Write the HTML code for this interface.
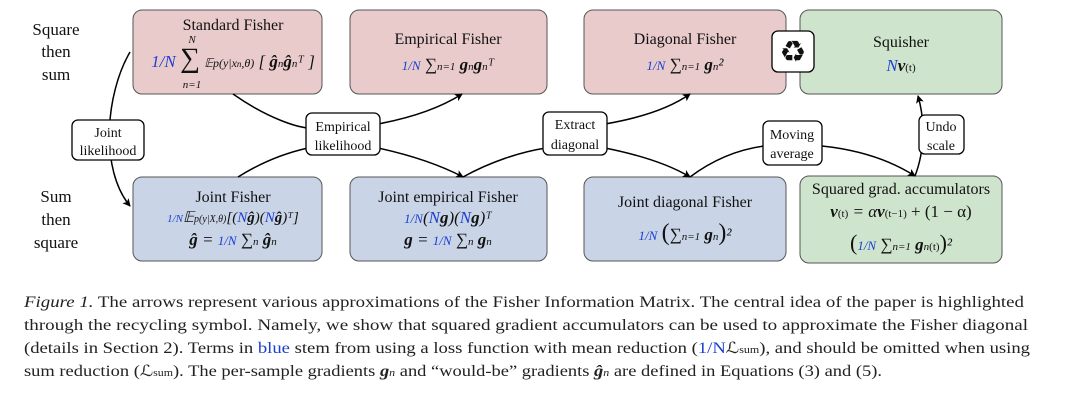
<!DOCTYPE html>
<html><head><meta charset="utf-8"><style>
html,body{margin:0;padding:0;background:#fff;}
svg{display:block;font-family:"Liberation Serif",serif;}
.b{fill:#1a3fd0}
</style></head><body>
<svg width="1080" height="402" viewBox="0 0 1080 402" xmlns="http://www.w3.org/2000/svg">
<defs><marker id="a" markerWidth="8" markerHeight="8" refX="7" refY="4" orient="auto" markerUnits="userSpaceOnUse"><path d="M0,0 L8,4 L0,8 L2,4 z" fill="#000"/></marker></defs>
<g stroke="#555" stroke-width="1">
<rect x="133" y="10" width="189" height="84" rx="9" fill="#e9cbcb"/>
<rect x="350" y="10" width="197" height="84" rx="9" fill="#e9cbcb"/>
<rect x="584" y="10" width="202" height="84" rx="9" fill="#e9cbcb"/>
<rect x="800" y="10" width="202" height="84" rx="9" fill="#cfe4cc"/>
<rect x="133" y="177" width="189" height="84" rx="9" fill="#c9d4e7"/>
<rect x="350" y="177" width="197" height="84" rx="9" fill="#c9d4e7"/>
<rect x="584" y="177" width="202" height="84" rx="9" fill="#c9d4e7"/>
<rect x="800" y="176" width="202" height="87" rx="9" fill="#cfe4cc"/>
</g>
<g fill="none" stroke="#000" stroke-width="1.5">
<path d="M130,52 C105,95 100,170 130,206" marker-end="url(#a)"/>
<path d="M233,94 C270,120 300,128 310,128"/>
<path d="M378,124 C410,118 440,108 462,94" marker-end="url(#a)"/>
<path d="M238,177 C265,160 290,152 308,148"/>
<path d="M378,148 C410,155 440,165 463,177" marker-end="url(#a)"/>
<path d="M605,124 C640,118 670,108 690,94" marker-end="url(#a)"/>
<path d="M546,148 C520,152 490,162 463,177"/>
<path d="M605,148 C640,155 670,165 690,177" marker-end="url(#a)"/>
<path d="M764,146 C735,150 710,162 690,177"/>
<path d="M822,146 C860,150 890,160 915,176" marker-end="url(#a)"/>
<path d="M915,176 C925,150 925,120 918,96" marker-end="url(#a)"/>
</g>
<g fill="#fff" stroke="#000" stroke-width="1.3">
<rect x="72" y="120" width="72" height="40" rx="6"/>
<rect x="306" y="113" width="74" height="42" rx="6"/>
<rect x="543" y="112" width="64" height="43" rx="6"/>
<rect x="763" y="121" width="59" height="44" rx="6"/>
<rect x="919" y="115" width="45" height="39" rx="6"/>
<rect x="772" y="31" width="42" height="41" rx="6"/>
</g>
<g font-size="14" text-anchor="middle" fill="#111">
<text x="108" y="137">Joint</text><text x="108" y="155">likelihood</text>
<text x="343" y="131">Empirical</text><text x="343" y="150">likelihood</text>
<text x="575" y="129">Extract</text><text x="575" y="149">diagonal</text>
<text x="792" y="139">Moving</text><text x="792" y="158">average</text>
<text x="941" y="131">Undo</text><text x="941" y="150">scale</text>
<text x="793" y="62" font-size="30" font-family="DejaVu Sans,sans-serif">♻</text>
</g>
<g font-size="17" text-anchor="middle" fill="#111">
<text x="56" y="35">Square</text><text x="56" y="57">then</text><text x="56" y="80">sum</text>
<text x="56" y="202">Sum</text><text x="56" y="225">then</text><text x="56" y="248">square</text>
<text x="233" y="30" font-size="16">Standard Fisher</text>
<text x="448" y="44" font-size="16">Empirical Fisher</text>
<text x="685" y="44" font-size="16">Diagonal Fisher</text>
<text x="901" y="47" font-size="16">Squisher</text>
<text x="233" y="202" font-size="16">Joint Fisher</text>
<text x="448" y="202" font-size="16">Joint empirical Fisher</text>
<text x="685" y="207" font-size="16">Joint diagonal Fisher</text>
<text x="901" y="194" font-size="16">Squared grad. accumulators</text>
</g>
<g font-size="17" text-anchor="middle" fill="#111" font-style="italic">
<text x="233" y="67"><tspan class="b">1/N</tspan> <tspan font-size="28" font-style="normal">∑</tspan> <tspan font-size="12">𝔼p(y|x<tspan font-size="9">n</tspan>,θ)</tspan> [ <tspan font-weight="bold">ĝ</tspan><tspan font-size="11">n</tspan><tspan font-weight="bold">ĝ</tspan><tspan font-size="11">n</tspan>ᵀ ]</text>
<text x="192" y="43" font-size="11">N</text><text x="192" y="88" font-size="11">n=1</text>
<text x="448" y="70"><tspan class="b" font-size="13">1/N</tspan> ∑<tspan font-size="11">n=1</tspan> <tspan font-weight="bold">g</tspan><tspan font-size="11">n</tspan><tspan font-weight="bold">g</tspan><tspan font-size="11">n</tspan>ᵀ</text>
<text x="685" y="70"><tspan class="b" font-size="13">1/N</tspan> ∑<tspan font-size="11">n=1</tspan> <tspan font-weight="bold">g</tspan><tspan font-size="11">n</tspan>²</text>
<text x="901" y="71"><tspan class="b">N</tspan><tspan font-weight="bold">v</tspan><tspan font-size="11" font-style="normal">(t)</tspan></text>
<text x="233" y="222" font-size="15"><tspan class="b" font-size="11">1/N</tspan>𝔼<tspan font-size="10">p(y|X,θ)</tspan>[(<tspan class="b">N</tspan><tspan font-weight="bold">ĝ</tspan>)(<tspan class="b">N</tspan><tspan font-weight="bold">ĝ</tspan>)ᵀ]</text>
<text x="233" y="245"><tspan font-weight="bold">ĝ</tspan> = <tspan class="b" font-size="13">1/N</tspan> ∑<tspan font-size="11">n</tspan> <tspan font-weight="bold">ĝ</tspan><tspan font-size="11">n</tspan></text>
<text x="448" y="223"><tspan class="b" font-size="13">1/N</tspan>(<tspan class="b">N</tspan><tspan font-weight="bold">g</tspan>)(<tspan class="b">N</tspan><tspan font-weight="bold">g</tspan>)ᵀ</text>
<text x="448" y="245"><tspan font-weight="bold">g</tspan> = <tspan class="b" font-size="13">1/N</tspan> ∑<tspan font-size="11">n</tspan> <tspan font-weight="bold">g</tspan><tspan font-size="11">n</tspan></text>
<text x="685" y="240"><tspan class="b" font-size="13">1/N</tspan> <tspan font-size="24" font-style="normal">(</tspan>∑<tspan font-size="11">n=1</tspan> <tspan font-weight="bold">g</tspan><tspan font-size="11">n</tspan><tspan font-size="24" font-style="normal">)</tspan>²</text>
<text x="901" y="217"><tspan font-weight="bold">v</tspan><tspan font-size="11" font-style="normal">(t)</tspan> = α<tspan font-weight="bold">v</tspan><tspan font-size="11" font-style="normal">(t−1)</tspan> <tspan font-style="normal">+ (1 − α)</tspan></text>
<text x="901" y="250"><tspan font-size="22" font-style="normal">(</tspan><tspan class="b" font-size="13">1/N</tspan> ∑<tspan font-size="11">n=1</tspan> <tspan font-weight="bold">g</tspan><tspan font-size="11">n</tspan><tspan font-size="11" font-style="normal">(t)</tspan><tspan font-size="22" font-style="normal">)</tspan>²</text>
</g>
<g font-size="15.5" fill="#222">
<text x="24" y="307" textLength="1000" lengthAdjust="spacingAndGlyphs"><tspan font-style="italic">Figure 1.</tspan> The arrows represent various approximations of the Fisher Information Matrix. The central idea of the paper is highlighted</text>
<text x="24" y="330" textLength="1004" lengthAdjust="spacingAndGlyphs">through the recycling symbol. Namely, we show that squared gradient accumulators can be used to approximate the Fisher diagonal</text>
<text x="24" y="353" textLength="1006" lengthAdjust="spacingAndGlyphs">(details in Section 2). Terms in <tspan class="b">blue</tspan> stem from using a loss function with mean reduction (<tspan class="b">1/N</tspan>ℒ<tspan font-size="10">sum</tspan>), and should be omitted when using</text>
<text x="24" y="376" textLength="858" lengthAdjust="spacingAndGlyphs">sum reduction (ℒ<tspan font-size="10">sum</tspan>). The per-sample gradients <tspan font-weight="bold" font-style="italic">g</tspan><tspan font-size="10" font-style="italic">n</tspan> and “would-be” gradients <tspan font-weight="bold" font-style="italic">ĝ</tspan><tspan font-size="10" font-style="italic">n</tspan> are defined in Equations (3) and (5).</text>
</g>
</svg>
</body></html>
